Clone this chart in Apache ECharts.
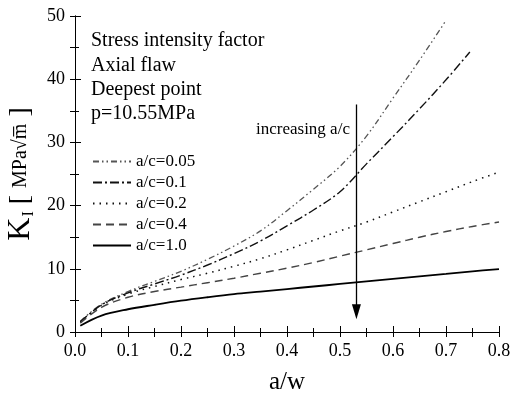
<!DOCTYPE html>
<html>
<head>
<meta charset="utf-8">
<style>
html, body { margin: 0; padding: 0; background: #fff; }
#chart { width: 513px; height: 400px; }
</style>
<script src="https://cdn.jsdelivr.net/npm/echarts@6/dist/echarts.min.js"></script>
</head>
<body>
<div id="chart"></div>
<script>
// a/w sample points
var aw = [0.01, 0.05, 0.1, 0.15, 0.2, 0.25, 0.3, 0.35, 0.4, 0.45, 0.5, 0.55, 0.6, 0.65, 0.7, 0.75, 0.8];
var aw005 = [0.01, 0.05, 0.1, 0.15, 0.2, 0.25, 0.3, 0.35, 0.4, 0.45, 0.5, 0.55, 0.6, 0.65, 0.7];
var aw01 = [0.01, 0.05, 0.1, 0.15, 0.2, 0.25, 0.3, 0.35, 0.4, 0.45, 0.5, 0.55, 0.6, 0.65, 0.7, 0.745];

// K_I values
var k005 = [1.7, 4.4, 6.4, 8.0, 9.6, 11.5, 13.6, 16.0, 19.2, 22.6, 26.2, 31.0, 37.0, 43.0, 49.3];
var k01 = [1.6, 4.3, 6.2, 7.6, 9.0, 10.6, 12.4, 14.4, 16.8, 19.3, 22.2, 26.6, 30.9, 35.3, 39.9, 44.3];
var k02 = [1.5, 4.2, 6.0, 7.2, 8.3, 9.3, 10.4, 11.6, 13.0, 14.5, 16.0, 17.4, 19.0, 20.6, 22.2, 23.8, 25.3];
var k04 = [1.4, 3.9, 5.5, 6.4, 7.1, 7.8, 8.5, 9.3, 10.1, 11.0, 12.0, 13.0, 14.0, 15.0, 15.9, 16.7, 17.4];
var k10 = [1.0, 2.6, 3.6, 4.3, 4.95, 5.5, 6.0, 6.4, 6.8, 7.2, 7.6, 8.0, 8.4, 8.8, 9.2, 9.6, 9.95];

var names = ["a/c=0.05", "a/c=0.1", "a/c=0.2", "a/c=0.4", "a/c=1.0"];
var notes = ["Stress intensity factor", "Axial flaw", "Deepest point", "p=10.55MPa"];
var arrowX = 0.531;
var arrowY = [36, 3.2];

function pairs(xs, ys) {
  return ys.map(function (v, i) { return [xs[i], v]; });
}

var serif = "Liberation Serif";
var chart = echarts.init(document.getElementById("chart"));

function mkSeries(name, data, color, width, type) {
  return {
    name: name,
    type: "line",
    data: data,
    symbol: "none",
    showSymbol: false,
    smooth: 0.35,
    lineStyle: { color: color, width: width, type: type },
    itemStyle: { color: color },
    z: 3
  };
}

var series = [
  mkSeries(names[0], pairs(aw005, k005), "#555", 1.3, [6, 3, 1.5, 3, 1.5, 3]),
  mkSeries(names[1], pairs(aw01, k01), "#111", 1.4, [9, 3, 2, 3]),
  mkSeries(names[2], pairs(aw, k02), "#111", 1.5, [1.5, 5]),
  mkSeries(names[3], pairs(aw, k04), "#444", 1.4, [8, 5]),
  mkSeries(names[4], pairs(aw, k10), "#000", 1.8, "solid")
];

series[4].markLine = {
  silent: true,
  symbol: ["none", "triangle"],
  symbolSize: [9, 15],
  label: { show: false },
  lineStyle: { color: "#000", width: 1.3, type: "solid" },
  data: [[{ coord: [arrowX, arrowY[0]] }, { coord: [arrowX, arrowY[1]] }]]
};

var option = {
  animation: false,
  backgroundColor: "#fff",
  grid: { left: 75, right: 14, top: 16, bottom: 68, outerBoundsMode: "none" },
  legend: {
    data: names,
    orient: "vertical",
    left: 87,
    top: 148,
    itemWidth: 38,
    itemHeight: 14,
    itemGap: 4,
    itemStyle: { opacity: 0 },
    textStyle: { fontFamily: serif, fontSize: 17, lineHeight: 14, color: "#000" }
  },
  xAxis: [
    {
      type: "value",
      min: 0,
      max: 0.8,
      interval: 0.1,
      name: "a/w",
      nameLocation: "middle",
      nameGap: 38,
      nameTextStyle: { fontFamily: serif, fontSize: 25, color: "#000" },
      axisLine: { lineStyle: { color: "#000", width: 1 } },
      axisTick: { inside: true, length: 6, lineStyle: { color: "#000" } },
      minorTick: { show: true, splitNumber: 2, length: 4, lineStyle: { color: "#000" } },
      splitLine: { show: false },
      axisLabel: {
        fontFamily: serif, fontSize: 18, color: "#000", margin: 10,
        alignMinLabel: "center", alignMaxLabel: "center", hideOverlap: false,
        formatter: function (v) { return v.toFixed(1); }
      }
    },
    {
      type: "value",
      position: "top",
      min: 0,
      max: 0.8,
      interval: 0.1,
      axisLine: { lineStyle: { color: "#000", width: 1 } },
      axisTick: { inside: true, length: 5, lineStyle: { color: "#000" } },
      minorTick: { show: true, splitNumber: 2, length: 5, lineStyle: { color: "#000" } },
      splitLine: { show: false },
      axisLabel: { show: false }
    }
  ],
  yAxis: [
    {
      type: "value",
      min: 0,
      max: 50,
      interval: 10,
      name: "{k|K}{s|I}{b| [ }{u|MPa√m̅}{b| ]}",
      nameLocation: "middle",
      nameRotate: 90,
      nameGap: 38,
      nameMoveOverlap: false,
      nameTextStyle: {
        color: "#000",
        rich: {
          k: { fontFamily: serif, fontSize: 32, color: "#000" },
          s: { fontFamily: serif, fontSize: 16, color: "#000", padding: [16, 0, 0, 1] },
          b: { fontFamily: serif, fontSize: 28, color: "#000" },
          u: { fontFamily: serif, fontSize: 20, color: "#000" }
        }
      },
      axisLine: { show: true, lineStyle: { color: "#000", width: 1 } },
      axisTick: { inside: true, length: 6, lineStyle: { color: "#000" } },
      minorTick: { show: true, splitNumber: 2, length: 4, lineStyle: { color: "#000" } },
      splitLine: { show: false },
      axisLabel: { fontFamily: serif, fontSize: 18, color: "#000", margin: 10 }
    },
    {
      type: "value",
      position: "right",
      min: 0,
      max: 50,
      interval: 10,
      axisLine: { show: true, lineStyle: { color: "#000", width: 1 } },
      axisTick: { inside: true, length: 5, lineStyle: { color: "#000" } },
      minorTick: { show: true, splitNumber: 2, length: 5, lineStyle: { color: "#000" } },
      splitLine: { show: false },
      axisLabel: { show: false }
    }
  ],
  graphic: notes.map(function (t, i) {
    return {
      type: "text",
      left: 91,
      top: 31 + i * 24.3,
      style: { text: t, fontFamily: serif, fontSize: 20, fill: "#000" }
    };
  }).concat([{
    type: "text",
    left: 256,
    top: 121,
    style: { text: "increasing a/c", fontFamily: serif, fontSize: 17, fill: "#000" }
  }]),
  series: series
};

chart.setOption(option);
</script>
</body>
</html>
